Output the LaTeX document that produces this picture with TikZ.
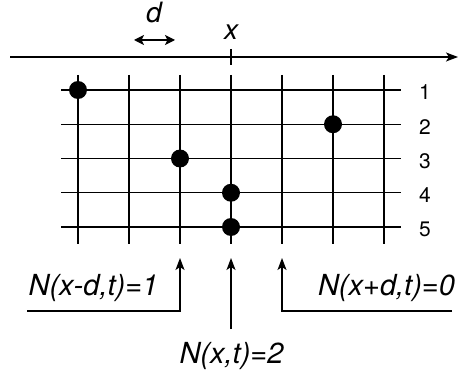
\documentclass[tikz,border=0pt]{standalone}
\usepackage{fontspec}
\setmainfont{TeX Gyre Heros}
\usetikzlibrary{arrows.meta}

\begin{document}
\begin{tikzpicture}[x=1pt, y=-1pt, line width=1.3pt,
  lbl/.style={font=\itshape\fontsize{29}{32}\selectfont, inner sep=0pt, anchor=base},
  sym/.style={font=\itshape\fontsize{28}{30}\selectfont, inner sep=0pt, anchor=base},
  row/.style={font=\fontsize{21}{24}\selectfont, inner sep=0pt, anchor=base},
  dot/.style={circle, fill=black, inner sep=0pt, minimum size=18pt},
  arr/.style={-{Stealth[length=12pt, width=9pt, inset=3pt]}},
  dbl/.style={{Stealth[length=10pt, width=10pt, inset=2.5pt]}-{Stealth[length=10pt, width=10pt, inset=2.5pt]}}]
\useasboundingbox (0,0) rectangle (458,374);
% position axis
\coordinate (a0) at (10,57);
\coordinate (a1) at (458,57);
\draw[arr] (a0) -- (a1);
\draw (231,49) -- (231,65);
\node[sym] (x) at (231,40) {x};
\node[sym] (d) at (154,23) {d};
\coordinate (dl) at (134,40);
\coordinate (dr) at (175,40);
\draw[dbl] (dl) -- (dr);
% grid
\foreach \i in {0,...,6}
  \draw (78+51*\i,75) -- (78+51*\i,244);
\foreach \j in {1,...,5} {
  \draw (61,{90+34.25*(\j-1)}) -- (401,{90+34.25*(\j-1)});
  \node[row] (r\j) at (425,{100+34.25*(\j-1)}) {\j};
}
% particles
\node[dot] (p1) at (78,90) {};
\node[dot] (p2) at (333,124.25) {};
\node[dot] (p3) at (180,158.5) {};
\node[dot] (p4) at (231,192.75) {};
\node[dot] (p5) at (231,227) {};
% counts
\node[lbl] (nl) at (93.5,295) {N(x-d,t)=1};
\node[lbl] (nc) at (231.5,363) {N(x,t)=2};
\node[lbl] (nr) at (386.5,295) {N(x+d,t)=0};
\coordinate (lfoot) at (27,311);
\coordinate (ltip) at (180,258);
\coordinate (cfoot) at (231,329);
\coordinate (ctip) at (231,258);
\coordinate (rfoot) at (452,311);
\coordinate (rtip) at (282,258);
\draw[arr] (lfoot) -| (ltip);
\draw[arr] (cfoot) -- (ctip);
\draw[arr] (rfoot) -| (rtip);
\end{tikzpicture}
\end{document}
